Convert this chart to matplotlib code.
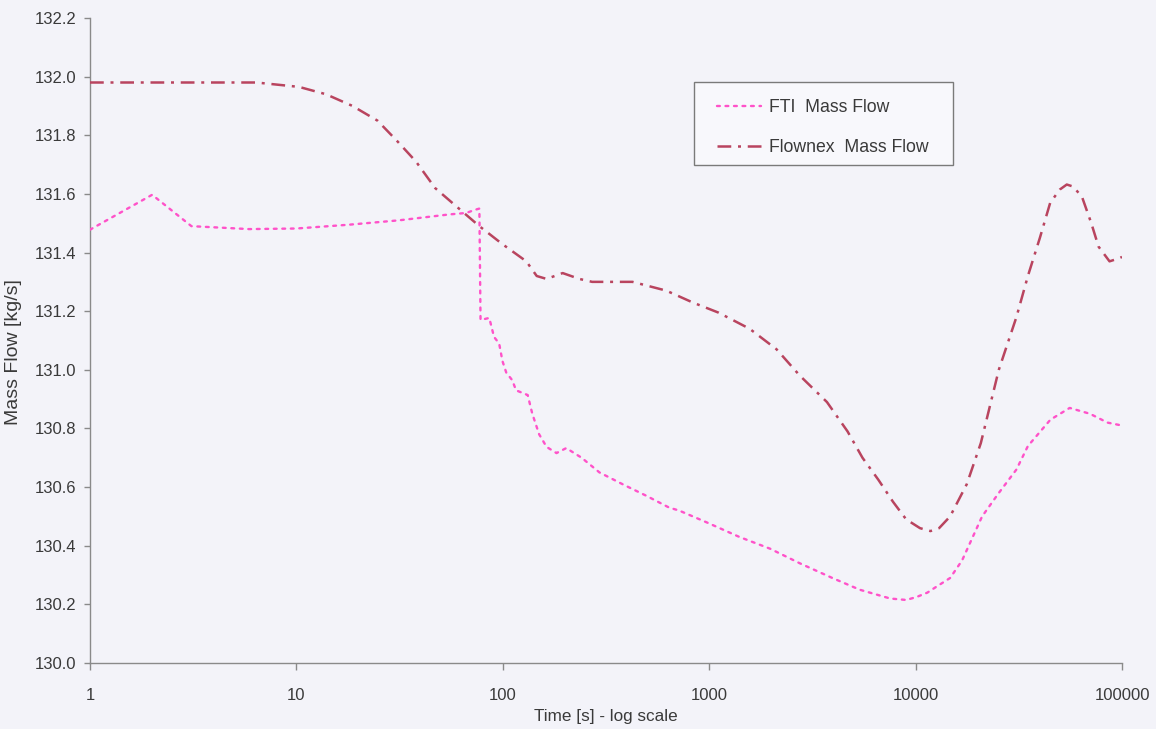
import matplotlib
matplotlib.use("Agg")
import matplotlib.pyplot as plt
from matplotlib.patches import Rectangle
from matplotlib.ticker import FixedLocator, FixedFormatter, NullLocator

# Time axis (s) and mass flow (kg/s) for the FTI measurement
fti_time = [1, 2, 3.1, 5.9, 10, 18, 31.5, 55, 66.5, 72.8, 77, 78, 86, 90.7, 96,
            99.6, 104, 111, 116, 132, 139, 150, 163, 182, 203, 241, 294, 380,
            497, 640, 715, 970, 1400, 1970, 2750, 3950, 5360, 7530, 9000,
            10100, 11400, 12600, 14700, 16800, 21000, 25300, 30800, 35000,
            45000, 55800, 70000, 85000, 100000]
fti_flow = [131.478, 131.597, 131.49, 131.48, 131.482, 131.495, 131.51, 131.53,
            131.535, 131.545, 131.55, 131.17, 131.177, 131.112, 131.09, 131.03,
            130.99, 130.965, 130.93, 130.914, 130.85, 130.78, 130.737, 130.716,
            130.733, 130.70, 130.65, 130.61, 130.57, 130.53, 130.52, 130.48,
            130.43, 130.39, 130.34, 130.29, 130.25, 130.22, 130.215, 130.225,
            130.24, 130.26, 130.29, 130.35, 130.50, 130.58, 130.66, 130.74,
            130.83, 130.87, 130.85, 130.82, 130.81]

# Flownex simulation
flownex_time = [1, 2, 4, 6.4, 10.3, 13.9, 18.7, 24.7, 30.8, 38, 47, 59, 77, 99,
                130, 146, 163, 195, 235, 271, 339, 425, 620, 830, 1110, 1570,
                2120, 2750, 3720, 4680, 5530, 6600, 7770, 9000, 10500, 11800,
                13000, 14700, 17700, 20700, 25300, 30800, 35000, 40000, 44900,
                50000, 54000, 58000, 64000, 71000, 77000, 87000, 96500, 100000]
flownex_flow = [131.98, 131.98, 131.98, 131.98, 131.965, 131.94, 131.90, 131.85,
                131.78, 131.71, 131.62, 131.56, 131.49, 131.43, 131.37, 131.32,
                131.31, 131.33, 131.31, 131.30, 131.30, 131.30, 131.27, 131.23,
                131.195, 131.14, 131.07, 130.98, 130.89, 130.79, 130.70, 130.625,
                130.55, 130.49, 130.46, 130.45, 130.46, 130.50, 130.61, 130.75,
                131.0, 131.18, 131.32, 131.45, 131.57, 131.615, 131.632, 131.625,
                131.59, 131.50, 131.42, 131.37, 131.38, 131.385]

x_ticks = [1, 10, 100, 1000, 10000, 100000]
x_tick_labels = ["1", "10", "100", "1000", "10000", "100000"]
y_ticks = [130.0, 130.2, 130.4, 130.6, 130.8, 131.0, 131.2, 131.4, 131.6,
           131.8, 132.0, 132.2]

series_labels = ["FTI  Mass Flow", "Flownex  Mass Flow"]

plt.rcParams["font.family"] = ["Liberation Sans", "DejaVu Sans"]

W, H = 1156, 729
bg = "#f3f3f9"
text_col = "#3a3a3a"
axis_col = "#8a8a8a"

fig = plt.figure(figsize=(W / 100, H / 100), dpi=100, facecolor=bg)
ax = fig.add_axes([90 / W, 1 - 663 / H, (1122 - 90) / W, (663 - 18) / H])
ax.set_facecolor(bg)

ax.plot(fti_time, fti_flow, color="#ff52c9", lw=1.7,
        linestyle=(0, (1.2, 2.4)), dash_capstyle="round",
        label=series_labels[0], zorder=3)
ax.plot(flownex_time, flownex_flow, color="#b9445f", lw=1.8,
        linestyle=(0, (5.5, 2.7, 1.2, 2.7)),
        label=series_labels[1], zorder=4)

ax.set_xscale("log")
ax.set_xlim(1, 100000)
ax.set_ylim(130.0, 132.2)
ax.xaxis.set_major_locator(FixedLocator(x_ticks))
ax.xaxis.set_major_formatter(FixedFormatter(x_tick_labels))
ax.xaxis.set_minor_locator(NullLocator())
ax.set_yticks(y_ticks)
ax.set_yticklabels([f"{v:.1f}" for v in y_ticks])

for side in ("top", "right"):
    ax.spines[side].set_visible(False)
for side in ("left", "bottom"):
    ax.spines[side].set_color(axis_col)
    ax.spines[side].set_linewidth(1.0)

ax.tick_params(axis="x", direction="out", length=5, width=1, color=axis_col,
               labelcolor=text_col, labelsize=12, pad=13)
ax.tick_params(axis="y", direction="out", length=4, width=1, color=axis_col,
               labelcolor=text_col, labelsize=12, pad=6)

ax.set_xlabel("Time [s] - log scale", fontsize=12.3, color=text_col, va="top")
ax.xaxis.set_label_coords(0.5, -0.072)
ax.set_ylabel("Mass Flow [kg/s]", fontsize=14, color=text_col)
ax.yaxis.set_label_coords(-0.066, 0.482)

# Legend entries without a frame; the box is drawn separately
leg = ax.legend(loc="upper left", bbox_to_anchor=(717 / W, 1 - 99 / H),
                bbox_transform=fig.transFigure, frameon=False,
                fontsize=12.7, handlelength=2.5, handletextpad=0.45,
                labelspacing=1.3, borderpad=0, borderaxespad=0)
for t in leg.get_texts():
    t.set_color(text_col)

frame = Rectangle((694 / W, 1 - 165 / H), (953 - 694) / W, (165 - 82) / H,
                  transform=fig.transFigure, facecolor="#f8f8fc",
                  edgecolor="#7a7a7a", linewidth=1.0, zorder=5)
ax.add_artist(frame)
leg.set_zorder(6)

fig.savefig("out.png", dpi=100, facecolor=bg)
